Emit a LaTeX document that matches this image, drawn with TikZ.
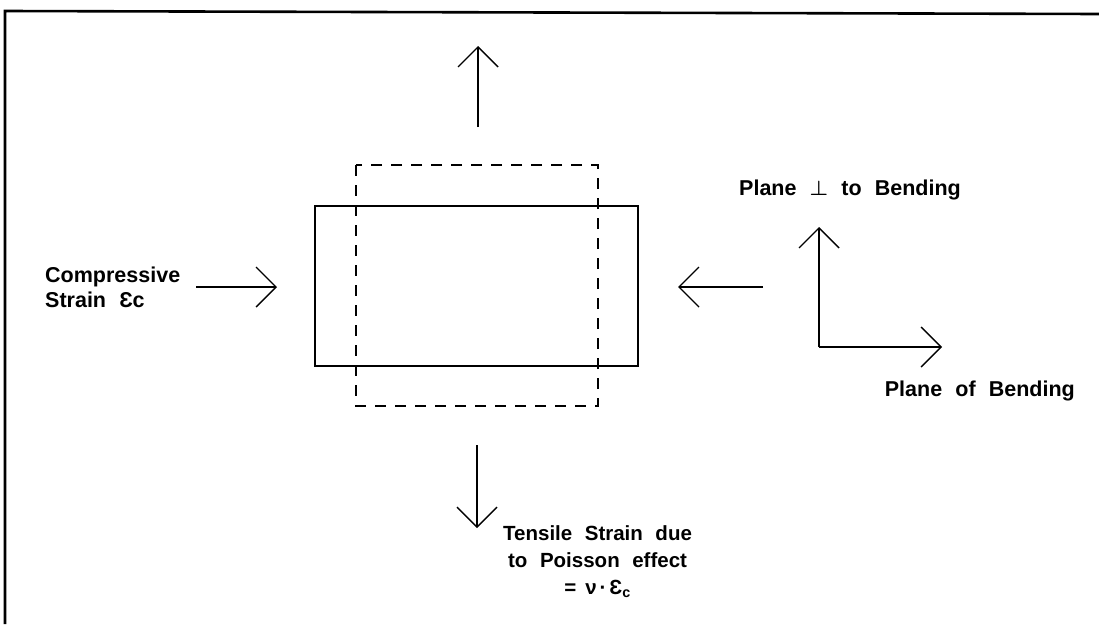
\documentclass[tikz,border=0pt]{standalone}
\usepackage{fontspec}
\setmainfont{Liberation Sans}[WordSpace=2.2]
\usetikzlibrary{arrows.meta}

\tikzset{
  strain/.style={-{Straight Barb[length=20pt,width=40pt]}, line width=1.4pt},
  lbl/.style={inner sep=0pt, font=\fontsize{21.5}{25}\selectfont\bfseries},
}

\begin{document}
\begin{tikzpicture}[x=1pt,y=-1pt]
\useasboundingbox (0,0) rectangle (1099,624);
% frame (top and left only)
\draw[line width=2.6pt] (5,624) -- (5,11) -- (1099,14);

% specimen before and after
\draw[line width=1.4pt] (315,206) rectangle (638,366);
\draw[line width=1.4pt, dash pattern=on 11pt off 9pt] (356,165) rectangle (598,406);

% compressive strain
\coordinate (cL0) at (196,287);
\coordinate (cL1) at (277,287);
\draw[strain] (cL0) -- (cL1);
\coordinate (cR0) at (763,287);
\coordinate (cR1) at (678,287);
\draw[strain] (cR0) -- (cR1);
\node[lbl, anchor=north west, align=left] (comp) at (45,267) {Compressive\\Strain Ɛc};

% poisson strain
\coordinate (tU0) at (478,127);
\coordinate (tU1) at (478,46);
\draw[strain] (tU0) -- (tU1);
\coordinate (tD0) at (477,445);
\coordinate (tD1) at (477,528);
\draw[strain] (tD0) -- (tD1);
\node[lbl, anchor=north west, align=center, font=\fontsize{20.5}{27}\selectfont\bfseries] (tens) at (503,525)
  {Tensile Strain due\\to Poisson effect\\=\kern9pt ν\kern3pt·\kern3pt Ɛ\textsubscript{c}};

% planes
\coordinate (ax0) at (819,347);
\coordinate (axU) at (819,227);
\coordinate (axR) at (942,347);
\draw[strain] (ax0) -- (axU);
\draw[strain] (ax0) -- (axR);
\node[lbl, anchor=north west] (perp) at (739,180) {Plane {\mathversion{bold}$\perp$} to Bending};
\node[lbl, anchor=north east] (bend) at (1075,381) {Plane of Bending};
\end{tikzpicture}
\end{document}
